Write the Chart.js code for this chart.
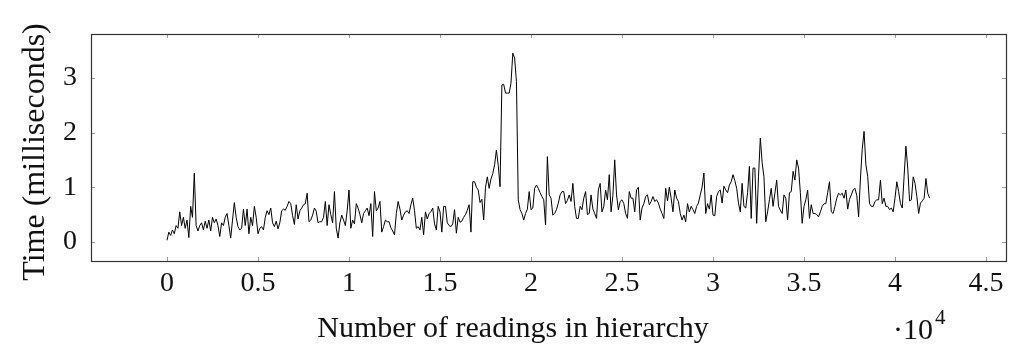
<!DOCTYPE html>
<html><head><meta charset="utf-8">
<script src="https://cdn.jsdelivr.net/npm/chart.js@4/dist/chart.umd.min.js"></script>
<style>html,body{margin:0;padding:0;background:#fff;overflow:hidden}</style>
</head><body>
<canvas id="c" width="1016" height="347"></canvas>
<script>
// ---- data ----
const readingStep = 100; // one sample every 100 readings
const timesMs = [
0.03,0.18,0.12,0.22,0.15,0.30,0.25,0.55,0.30,0.45,
0.25,0.40,0.08,0.65,0.45,1.26,0.30,0.20,0.30,0.35,
0.22,0.38,0.25,0.40,0.20,0.45,0.35,0.42,0.30,0.10,
0.35,0.30,0.45,0.52,0.30,0.07,0.40,0.72,0.45,0.28,
0.22,0.25,0.60,0.30,0.60,0.15,0.45,0.30,0.65,0.45,
0.15,0.25,0.28,0.22,0.45,0.57,0.50,0.62,0.35,0.28,
0.38,0.24,0.35,0.57,0.60,0.58,0.65,0.74,0.70,0.48,
0.32,0.68,0.42,0.57,0.62,0.68,0.70,0.89,0.37,0.40,
0.49,0.62,0.56,0.35,0.37,0.37,0.45,0.74,0.30,0.68,
0.50,0.35,0.92,0.25,0.07,0.35,0.49,0.40,0.30,0.57,
0.95,0.25,0.40,0.33,0.70,0.62,0.50,0.35,0.52,0.57,
0.62,0.48,0.70,0.10,0.92,0.57,0.62,0.74,0.18,0.28,
0.40,0.37,0.37,0.26,0.20,0.13,0.52,0.74,0.60,0.40,
0.49,0.55,0.57,0.52,0.68,0.80,0.57,0.25,0.28,0.22,
0.45,0.13,0.55,0.42,0.52,0.55,0.62,0.33,0.22,0.65,
0.55,0.18,0.65,0.65,0.35,0.30,0.28,0.33,0.59,0.16,
0.45,0.36,0.38,0.45,0.50,0.58,0.68,0.18,1.10,1.10,
1.00,0.95,0.72,0.78,0.40,1.00,1.19,0.98,1.15,1.25,
1.41,1.68,1.40,1.01,2.87,2.88,2.72,2.72,2.72,2.90,
3.45,3.36,2.93,0.77,0.59,0.52,0.40,0.52,0.60,0.92,
0.59,0.62,0.98,1.04,0.98,0.90,0.83,0.77,0.31,1.56,
0.86,0.80,0.49,0.52,0.59,0.71,0.86,0.92,0.92,0.70,
0.76,0.86,0.74,1.07,0.65,0.43,0.43,0.65,0.59,0.80,
0.92,0.50,0.52,0.86,0.60,0.52,0.43,0.95,1.07,0.55,
0.65,0.95,0.77,1.23,0.55,0.85,1.50,0.86,0.59,0.74,
0.77,0.70,0.52,0.43,0.92,0.80,0.80,0.55,0.95,1.00,
0.40,0.62,0.70,0.83,0.86,0.68,0.74,0.83,0.74,0.77,
0.71,0.60,0.52,0.43,0.98,0.75,1.00,0.80,0.55,0.95,
0.80,0.74,0.52,0.40,0.49,0.37,0.70,0.55,0.65,0.59,
0.52,0.65,0.71,0.86,1.00,1.26,0.52,0.70,0.60,0.86,
0.49,0.48,0.83,0.92,0.95,0.71,1.02,0.95,0.90,1.04,
1.10,1.23,1.12,0.98,0.71,0.55,1.07,0.65,0.62,0.90,
1.38,0.43,1.35,1.35,0.34,1.19,1.90,1.45,1.19,0.37,
0.55,0.77,0.98,0.65,0.89,1.13,0.65,0.58,0.52,0.86,
0.80,0.40,0.90,0.92,1.29,1.13,1.50,1.35,0.90,0.34,
0.65,0.77,0.95,0.43,0.68,0.52,0.52,0.50,0.46,0.55,
0.65,0.70,0.70,0.90,1.10,0.55,0.52,0.65,0.80,0.89,
0.86,0.89,0.80,0.95,0.60,0.78,0.86,0.95,0.98,0.85,
0.46,1.15,1.70,2.02,1.41,1.20,0.70,0.65,0.65,0.74,
0.77,0.77,1.13,0.70,0.80,0.65,0.65,0.59,0.62,0.55,
0.80,1.10,0.92,0.70,0.62,1.20,1.75,1.35,0.75,0.77,
1.19,1.07,0.83,0.52,0.71,0.75,0.80,1.16,0.89,0.80
];
const xTickValues = [0,5000,10000,15000,20000,25000,30000,35000,40000,45000];
const xTickLabels = ["0","0.5","1","1.5","2","2.5","3","3.5","4","4.5"];
const yTickValues = [0,1,2,3];
const yTickLabels = ["0","1","2","3"];
const xAxisTitle = "Number of readings in hierarchy";
const yAxisTitle = "Time (milliseconds)";
const xExponentBase = "\u00B710";
const xExponent = "4";

// ---- chart ----
const points = timesMs.map((v, i) => ({ x: i * readingStep, y: v }));
const SERIF = "'Liberation Serif', 'DejaVu Serif', serif";

const framePlugin = {
  id: 'frame',
  afterDraw(chart) {
    const { ctx, chartArea: a, scales } = chart;
    ctx.save();
    // inside tick marks on all four sides
    ctx.strokeStyle = '#9a9a9a';
    ctx.lineWidth = 1;
    const tl = 4;
    ctx.beginPath();
    xTickValues.forEach(v => {
      const px = Math.round(scales.x.getPixelForValue(v)) + 0.5;
      ctx.moveTo(px, a.bottom); ctx.lineTo(px, a.bottom - tl);
      ctx.moveTo(px, a.top); ctx.lineTo(px, a.top + tl);
    });
    yTickValues.forEach(v => {
      const py = Math.round(scales.y.getPixelForValue(v)) + 0.5;
      ctx.moveTo(a.left, py); ctx.lineTo(a.left + tl, py);
      ctx.moveTo(a.right, py); ctx.lineTo(a.right - tl, py);
    });
    ctx.stroke();
    // frame
    ctx.strokeStyle = '#333';
    ctx.lineWidth = 1.2;
    ctx.strokeRect(Math.round(a.left) + 0.5, Math.round(a.top) + 0.5,
                   Math.round(a.right - a.left), Math.round(a.bottom - a.top));
    // axis titles
    ctx.fillStyle = '#111';
    ctx.font = "30px " + SERIF;
    ctx.textAlign = 'center';
    ctx.textBaseline = 'alphabetic';
    ctx.fillText(xAxisTitle, 513, 337);
    ctx.save();
    ctx.font = "32px " + SERIF;
    ctx.translate(44, 152);
    ctx.rotate(-Math.PI / 2);
    ctx.fillText(yAxisTitle, 0, 0);
    ctx.restore();
    // x-axis multiplier  ·10^4
    ctx.textAlign = 'left';
    ctx.font = "30px " + SERIF;
    ctx.fillText(xExponentBase, 893, 339);
    const w = ctx.measureText(xExponentBase).width;
    ctx.font = "21px " + SERIF;
    ctx.fillText(xExponent, 893 + w + 2, 324);
    ctx.restore();
  }
};

new Chart(document.getElementById('c'), {
  type: 'line',
  data: {
    datasets: [{
      data: points,
      borderColor: '#000',
      borderWidth: 1.0,
      pointRadius: 0,
      tension: 0,
      fill: false
    }]
  },
  options: {
    responsive: false,
    animation: false,
    devicePixelRatio: 1,
    layout: { padding: { left: 0, right: 10, top: 34, bottom: 0 } },
    plugins: { legend: { display: false }, tooltip: { enabled: false } },
    scales: {
      x: {
        type: 'linear',
        min: -4176,
        max: 46099,
        grid: { display: false, drawTicks: false },
        border: { display: false },
        afterBuildTicks(s) { s.ticks = xTickValues.map(v => ({ value: v })); },
        afterFit(s) { s.height = 86; },
        ticks: {
          color: '#111',
          font: { family: SERIF, size: 28 },
          padding: 6,
          maxRotation: 0,
          autoSkip: false,
          callback: (v) => xTickLabels[xTickValues.indexOf(v)]
        }
      },
      y: {
        type: 'linear',
        min: -0.348,
        max: 3.80,
        grid: { display: false, drawTicks: false },
        border: { display: false },
        afterBuildTicks(s) { s.ticks = yTickValues.map(v => ({ value: v })); },
        afterFit(s) { s.width = 91; },
        ticks: {
          color: '#111',
          font: { family: SERIF, size: 28 },
          padding: 14,
          autoSkip: false,
          callback: (v) => yTickLabels[yTickValues.indexOf(v)]
        }
      }
    }
  },
  plugins: [framePlugin]
});
</script>
</body></html>
